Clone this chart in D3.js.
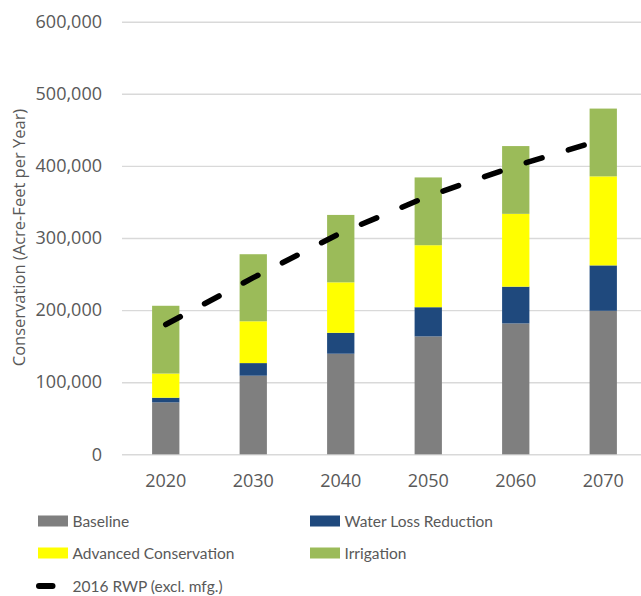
<!DOCTYPE html>
<html>
<head>
<meta charset="utf-8">
<script src="https://cdn.jsdelivr.net/npm/d3@7"></script>
<style>
  html, body { margin: 0; padding: 0; background: #fff; }
  svg { display: block; }
</style>
</head>
<body>
<svg id="chart" width="641" height="596"></svg>
<script>
// Water conservation projections by decade (acre-feet per year)
const years = ["2020", "2030", "2040", "2050", "2060", "2070"];
const baseline = [72000, 109000, 139500, 163500, 181500, 199000];
const waterLoss = [6500, 17500, 29000, 40500, 51000, 63000];
const advanced = [33500, 58000, 70000, 86000, 101000, 123500];
const irrigation = [94000, 93000, 93500, 94000, 94000, 94000];
const rwp2016 = [180000, 245000, 307000, 358000, 400000, 437000];
const yTicks = [0, 100000, 200000, 300000, 400000, 500000, 600000];

const seriesNames = ["Baseline", "Water Loss Reduction", "Advanced Conservation", "Irrigation"];
const seriesColors = ["#7f7f7f", "#1f497d", "#ffff00", "#9bbb59"];
const lineName = "2016 RWP (excl. mfg.)";

const svg = d3.select("#chart");
const axisColor = "#595959";
const gridColor = "#d9d9d9";

const x = d3.scaleBand()
  .domain(years)
  .range([122, 647])
  .paddingInner(0.688)
  .paddingOuter(0.344);

const y = d3.scaleLinear()
  .domain([0, 600000])
  .range([454.3, 21.7]);

// Horizontal gridlines and value labels
const yAxis = d3.axisLeft(y)
  .tickValues(yTicks)
  .tickSize(-(641 - 122))
  .tickPadding(20)
  .tickFormat(d3.format(","));

const gy = svg.append("g")
  .attr("transform", "translate(122,0)")
  .call(yAxis);
gy.select(".domain").remove();
gy.selectAll(".tick line").attr("stroke", gridColor).attr("stroke-width", 1.4);
gy.selectAll(".tick text")
  .attr("fill", axisColor)
  .attr("font-family", "'Open Sans', sans-serif")
  .attr("font-size", 18);

// Category labels
const xAxis = d3.axisBottom(x).tickSize(0).tickPadding(20);
const gx = svg.append("g")
  .attr("transform", "translate(0,454.3)")
  .call(xAxis);
gx.select(".domain").remove();
gx.selectAll(".tick text")
  .attr("fill", axisColor)
  .attr("font-family", "'Open Sans', sans-serif")
  .attr("font-size", 18);

// Stacked bars
const rows = years.map((yr, i) => ({
  year: yr,
  "Baseline": baseline[i],
  "Water Loss Reduction": waterLoss[i],
  "Advanced Conservation": advanced[i],
  "Irrigation": irrigation[i]
}));
const stacked = d3.stack().keys(seriesNames)(rows);

svg.append("g")
  .selectAll("g")
  .data(stacked)
  .join("g")
  .attr("fill", (d, i) => seriesColors[i])
  .selectAll("rect")
  .data(d => d)
  .join("rect")
  .attr("x", d => x(d.data.year))
  .attr("width", x.bandwidth())
  .attr("y", d => y(d[1]))
  .attr("height", d => y(d[0]) - y(d[1]));

// 2016 RWP dashed line
const line = d3.line()
  .x((d, i) => x(years[i]) + x.bandwidth() / 2)
  .y(d => y(d));

svg.append("path")
  .datum(rwp2016)
  .attr("d", line)
  .attr("fill", "none")
  .attr("stroke", "#000")
  .attr("stroke-width", 5.5)
  .attr("stroke-linecap", "round")
  .attr("stroke-dasharray", "16.5 27.5");

// Y axis title
svg.append("text")
  .attr("transform", "translate(18,237.5) rotate(-90)")
  .attr("text-anchor", "middle")
  .attr("dominant-baseline", "central")
  .attr("fill", axisColor)
  .attr("font-family", "'Open Sans', sans-serif")
  .attr("font-size", 16.5)
  .text("Conservation (Acre-Feet per Year)");

// Legend
const legendFont = "Lato, 'Open Sans', sans-serif";
const legendItems = [
  { name: seriesNames[0], color: seriesColors[0], col: 0, row: 0 },
  { name: seriesNames[1], color: seriesColors[1], col: 1, row: 0 },
  { name: seriesNames[2], color: seriesColors[2], col: 0, row: 1 },
  { name: seriesNames[3], color: seriesColors[3], col: 1, row: 1 }
];
const colX = [38, 310];
const rowY = [521, 553, 586];

const legend = svg.append("g");
legendItems.forEach(it => {
  const g = legend.append("g")
    .attr("transform", `translate(${colX[it.col]},${rowY[it.row]})`);
  g.append("rect")
    .attr("x", 0).attr("y", -5.5)
    .attr("width", 30).attr("height", 11)
    .attr("fill", it.color);
  g.append("text")
    .attr("x", 34.5)
    .attr("dominant-baseline", "central")
    .attr("fill", axisColor)
    .attr("font-family", legendFont)
    .attr("font-size", 15.5)
    .text(it.name);
});

const lg = legend.append("g").attr("transform", `translate(${colX[0]},${rowY[2]})`);
lg.append("line")
  .attr("x1", 1).attr("x2", 14.5)
  .attr("y1", 0).attr("y2", 0)
  .attr("stroke", "#000")
  .attr("stroke-width", 6)
  .attr("stroke-linecap", "round");
lg.append("text")
  .attr("x", 34.5)
  .attr("dominant-baseline", "central")
  .attr("fill", axisColor)
  .attr("font-family", legendFont)
  .attr("font-size", 15.5)
  .text(lineName);
</script>
</body>
</html>
